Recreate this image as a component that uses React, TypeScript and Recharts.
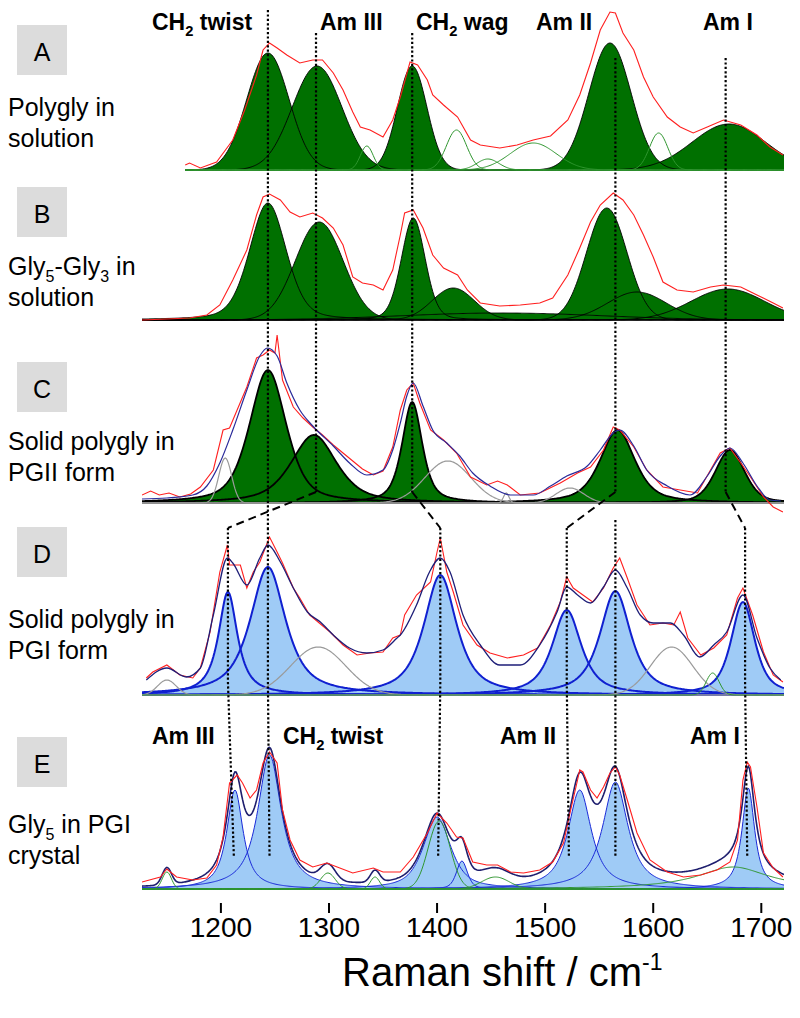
import React from "react";
import { ComposedChart, Area, Line, XAxis, YAxis, ReferenceLine } from "recharts";

// peak: [centre cm-1, height, half width at half max cm-1, lorentzian share]
type Peak = [number, number, number, number];
// spectrum point: [Raman shift cm-1, intensity above the panel baseline]
type Pt = [number, number];

const xTicks = [1200, 1300, 1400, 1500, 1600, 1700];

// A - polygly in solution
const peaksA: Peak[] = [[1243.5, 117, 23, 0], [1289, 104, 27, 0], [1377, 104, 16, 0], [1560, 127, 23, 0], [1670, 46, 40, 0]];
const greenA: Peak[] = [[1335, 24, 7, 0], [1418, 40, 11, 0], [1447, 11, 12, 0], [1489, 27, 25, 0], [1605, 37, 10, 0]];
const rawA: Pt[] = [[1167, 5], [1171, 7], [1181, 2], [1196, 8], [1211, 30], [1222, 60], [1233, 95], [1239, 120], [1245, 127], [1252, 122], [1261, 115], [1273, 107], [1285, 110], [1294, 110], [1304, 97], [1313, 80], [1322, 58], [1329, 43], [1338, 40], [1350, 33], [1359, 50], [1366, 73], [1375, 108], [1382, 105], [1391, 90], [1396, 75], [1406, 65], [1419, 53], [1431, 30], [1440, 25], [1458, 22], [1474, 25], [1489, 30], [1505, 34], [1521, 50], [1532, 75], [1542, 107], [1551, 140], [1560, 158], [1565, 157], [1572, 137], [1582, 120], [1591, 93], [1600, 73], [1613, 53], [1625, 43], [1637, 37], [1650, 43], [1665, 50], [1681, 45], [1696, 35], [1708, 23], [1720, 15]];

// B - Gly5-Gly3 in solution
const peaksB: Peak[] = [[1243.5, 117, 20, 0.3], [1291, 98, 26, 0], [1378, 102, 13, 0.2], [1415, 32, 23, 0], [1557, 112, 22, 0], [1585, 28, 32, 0], [1669, 31, 40, 0], [1460, 7, 110, 0]];
const rawB: Pt[] = [[1127, 0], [1150, 1], [1171, 2], [1187, 5], [1199, 15], [1211, 40], [1224, 70], [1233, 105], [1239, 123], [1245, 126], [1255, 120], [1264, 108], [1273, 103], [1285, 107], [1294, 102], [1304, 92], [1313, 75], [1322, 43], [1331, 37], [1341, 35], [1350, 30], [1359, 50], [1366, 85], [1370, 107], [1378, 110], [1387, 92], [1396, 65], [1406, 52], [1419, 45], [1428, 30], [1440, 17], [1458, 14], [1477, 15], [1495, 17], [1507, 22], [1521, 45], [1532, 72], [1542, 98], [1551, 115], [1563, 127], [1572, 120], [1582, 105], [1591, 85], [1600, 63], [1609, 38], [1622, 30], [1637, 28], [1653, 33], [1665, 35], [1681, 33], [1696, 25], [1711, 17], [1720, 12]];

// C - solid polygly, PGII
const peaksC: Peak[] = [[1243.5, 133, 20, 0.5], [1286, 68, 25, 0.6], [1377, 101, 11, 0.6], [1567, 73, 19, 0.6], [1671, 53, 16, 0.4]];
const grayC: Peak[] = [[1204, 45, 7, 0], [1410, 42, 25, 0], [1464, 10, 3, 0], [1523, 15, 15, 0]];
const rawC: Pt[] = [[1127, 8], [1135, 12], [1143, 8], [1152, 10], [1162, 6], [1172, 9], [1181, 16], [1193, 33], [1202, 73], [1208, 75], [1215, 93], [1224, 116], [1233, 145], [1239, 148], [1245, 153], [1250, 150], [1252, 168], [1257, 123], [1267, 96], [1276, 85], [1285, 76], [1294, 68], [1304, 58], [1313, 50], [1322, 42], [1331, 34], [1341, 28], [1350, 32], [1359, 56], [1366, 93], [1372, 113], [1378, 120], [1384, 100], [1394, 73], [1406, 63], [1418, 50], [1431, 26], [1446, 18], [1456, 22], [1465, 18], [1477, 8], [1495, 10], [1514, 20], [1530, 30], [1542, 36], [1554, 53], [1563, 76], [1569, 73], [1582, 56], [1594, 33], [1609, 16], [1625, 13], [1641, 10], [1653, 33], [1662, 50], [1671, 55], [1681, 40], [1690, 26], [1702, 6], [1711, -4], [1720, -9]];
const fitC: Pt[] = [[1127, 4], [1150, 5], [1174, 8], [1187, 17], [1199, 40], [1211, 73], [1224, 113], [1236, 147], [1243, 155], [1252, 147], [1261, 120], [1273, 93], [1285, 77], [1304, 57], [1319, 40], [1335, 28], [1350, 33], [1359, 53], [1366, 80], [1372, 107], [1378, 120], [1387, 97], [1396, 73], [1409, 60], [1421, 47], [1433, 30], [1449, 17], [1468, 8], [1489, 8], [1505, 17], [1520, 27], [1539, 37], [1551, 53], [1563, 70], [1569, 73], [1582, 57], [1594, 33], [1613, 17], [1634, 8], [1650, 27], [1662, 47], [1671, 55], [1683, 40], [1696, 17], [1708, 3], [1718, 2]];

// D - solid polygly, PGI
const peaksD: Peak[] = [[1206.5, 103, 10.5, 0.9], [1243.5, 128, 19.5, 0.8], [1403, 120, 18, 0.8], [1520, 85, 16, 0.8], [1565, 104, 17, 0.8], [1683, 93, 13, 0.7]];
const grayD: Peak[] = [[1150, 15, 10, 0], [1290, 48, 30, 0], [1617, 48, 23, 0]];
const greenD: Peak[] = [[1655, 22, 7, 0]];
const rawD: Pt[] = [[1131, 17], [1137, 23], [1150, 30], [1162, 20], [1174, 17], [1181, 27], [1190, 63], [1199, 123], [1206, 150], [1208, 130], [1218, 130], [1224, 107], [1230, 123], [1236, 133], [1245, 158], [1252, 143], [1257, 132], [1267, 107], [1273, 97], [1282, 80], [1291, 72], [1301, 63], [1313, 50], [1326, 40], [1338, 42], [1350, 43], [1359, 57], [1366, 60], [1370, 80], [1381, 100], [1394, 113], [1400, 143], [1403, 157], [1409, 123], [1415, 103], [1424, 70], [1437, 50], [1449, 42], [1465, 37], [1480, 40], [1493, 47], [1505, 70], [1514, 93], [1520, 118], [1526, 107], [1535, 100], [1544, 93], [1554, 107], [1563, 127], [1569, 137], [1576, 117], [1585, 90], [1597, 70], [1609, 72], [1619, 70], [1625, 83], [1632, 57], [1644, 40], [1656, 47], [1668, 60], [1678, 97], [1683, 107], [1692, 80], [1702, 43], [1711, 20], [1720, 13]];
const fitD: Pt[] = [[1131, 15], [1150, 27], [1168, 18], [1181, 27], [1193, 80], [1206, 137], [1211, 132], [1224, 110], [1236, 137], [1243.5, 150], [1255, 133], [1267, 107], [1280, 83], [1292, 73], [1304, 60], [1319, 47], [1335, 42], [1350, 45], [1363, 57], [1366, 60], [1381, 90], [1393, 123], [1403, 137], [1412, 123], [1424, 80], [1440, 50], [1458, 30], [1477, 30], [1495, 50], [1511, 83], [1520, 108], [1530, 100], [1542, 92], [1554, 108], [1565, 125], [1576, 107], [1588, 80], [1600, 72], [1616, 72], [1628, 60], [1643, 38], [1656, 50], [1668, 63], [1683, 100], [1696, 57], [1708, 27], [1718, 15]];

// E - Gly5 in PGI crystal
const peaksE: Peak[] = [[1213, 99, 9, 0.9], [1245, 134, 13, 0.9], [1400, 72, 15, 0.7], [1423, 28, 6, 0.5], [1532, 99, 13, 0.9], [1565, 107, 14, 0.9], [1688, 101, 7, 0.9]];
const greenE: Peak[] = [[1150, 17, 5, 0], [1299, 16, 8, 0], [1342.6, 12, 5, 0], [1454, 12, 15, 0], [1674, 22, 40, 1]];
const greenEextra: Peak[] = [[1402, 68, 12, 0]];
const rawE: Pt[] = [[1127, 7], [1144, 12], [1150, 20], [1159, 12], [1174, 9], [1187, 11], [1196, 24], [1202, 52], [1208, 106], [1215, 114], [1220, 106], [1227, 91], [1233, 99], [1239, 126], [1245, 137], [1252, 126], [1257, 79], [1264, 49], [1273, 29], [1285, 22], [1298, 26], [1310, 21], [1322, 16], [1341, 21], [1350, 17], [1366, 17], [1378, 32], [1391, 56], [1400, 76], [1409, 66], [1418, 52], [1424, 51], [1433, 27], [1446, 24], [1456, 24], [1468, 17], [1480, 16], [1495, 19], [1507, 27], [1517, 46], [1523, 76], [1530, 109], [1532, 119], [1535, 117], [1542, 99], [1548, 91], [1554, 102], [1560, 116], [1565, 122], [1569, 114], [1576, 89], [1585, 56], [1597, 29], [1613, 17], [1628, 12], [1644, 14], [1659, 19], [1671, 27], [1678, 49], [1683, 109], [1687, 127], [1690, 122], [1696, 82], [1702, 36], [1711, 21], [1720, 12]];

// band assignments used for the dotted guides
const bandsTop = [1243.5, 1288, 1377, 1565, 1667];
const bandsD = [1243.5, 1206.5, 1403, 1520, 1565, 1685];
const bandsE = [1245, 1212, 1401, 1522, 1565, 1687];
const links: [number, number][] = [[0, 0], [1, 1], [2, 2], [3, 3], [4, 5]];

// ---------- layout ----------
const W = 800;
const H = 1018;
const AXIS_Y = 903;
const X_DOMAIN: [number, number] = [1127, 1721];
const FONT = "'Liberation Sans', Arial, Helvetica, sans-serif";
const toY = (px: number) => AXIS_Y - px;

const GREEN = "#007000";
const BLUE_FILL = "#9fcbf6";

type LineSet = { peaks: Peak[]; color: string; width: number; inFit: boolean };
type Panel = {
  id: string;
  base: number;
  start: number;
  filled: Peak[];
  fill: string;
  edge: string;
  edgeWidth: number;
  lines: LineSet[];
  raw: Pt[];
  fit?: Pt[] | "sum";
  fitColor?: string;
  fitWidth?: number;
  rawFirst?: boolean;
};

const panels: Panel[] = [
  { id: "A", base: 170, start: 1167, filled: peaksA, fill: GREEN, edge: "#000", edgeWidth: 0.9, lines: [{ peaks: greenA, color: "#2f962f", width: 1, inFit: false }], raw: rawA },
  { id: "B", base: 320, start: 1127, filled: peaksB, fill: GREEN, edge: "#000", edgeWidth: 0.9, lines: [], raw: rawB },
  { id: "C", base: 503, start: 1127, filled: peaksC, fill: GREEN, edge: "#000", edgeWidth: 1.8, lines: [{ peaks: grayC, color: "#9a9a9a", width: 1.2, inFit: true }], raw: rawC, fit: fitC, fitColor: "#2a2a9a", fitWidth: 1.2, rawFirst: true },
  { id: "D", base: 695, start: 1127, filled: peaksD, fill: BLUE_FILL, edge: "#1020d0", edgeWidth: 2, lines: [{ peaks: grayD, color: "#9a9a9a", width: 1.2, inFit: true }, { peaks: greenD, color: "#2f962f", width: 1, inFit: true }], raw: rawD, fit: fitD, fitColor: "#1e1e78", fitWidth: 1.3, rawFirst: true },
  { id: "E", base: 889, start: 1127, filled: peaksE, fill: BLUE_FILL, edge: "#1a2ad8", edgeWidth: 1, lines: [{ peaks: greenE, color: "#2f962f", width: 1, inFit: true }, { peaks: greenEextra, color: "#2f962f", width: 1, inFit: false }], raw: rawE, fit: "sum", fitColor: "#1e1e6e", fitWidth: 1.6 },
];

const shape = (x: number, [c, h, w, eta]: Peak) => {
  const t = (x - c) / w;
  return h * ((1 - eta) * Math.exp(-Math.LN2 * t * t) + eta / (1 + t * t));
};

const rows: Record<string, any>[] = [];
for (let x = X_DOMAIN[0]; x <= X_DOMAIN[1]; x += 1) {
  const row: Record<string, any> = { x };
  panels.forEach((p) => {
    if (x < p.start) return;
    const b = toY(p.base);
    let sum = 0;
    p.filled.forEach((pk, i) => {
      const v = shape(x, pk);
      sum += v;
      row[`${p.id}f${i}`] = [b, b + v];
      row[`${p.id}e${i}`] = b + v;
    });
    p.lines.forEach((set, j) =>
      set.peaks.forEach((pk, k) => {
        const v = shape(x, pk);
        if (set.inFit) sum += v;
        row[`${p.id}l${j}_${k}`] = b + v;
      })
    );
    row[`${p.id}sum`] = b + sum;
  });
  rows.push(row);
}

const toSeries = (pts: Pt[], base: number) => pts.map(([x, v]) => ({ x, y: toY(base) + v }));

// dotted guides from band positions
const GUIDE_TOP = [10, 33, 33, 58, 58];
const C_END = 492;
const D_START = 528;
const D_SOLO = 520;
const D_BEND = 682;
const E_END = 857;
type Seg = { x1: number; y1: number; x2: number; y2: number; dashed: boolean };
const guides: Seg[] = [];
bandsTop.forEach((b, i) => guides.push({ x1: b, y1: GUIDE_TOP[i], x2: b, y2: C_END, dashed: false }));
links.forEach(([i, j]) =>
  guides.push({ x1: bandsTop[i], y1: C_END, x2: bandsD[j], y2: D_START, dashed: bandsTop[i] !== bandsD[j] })
);
bandsD.forEach((b, j) => {
  const linked = links.some(([, jj]) => jj === j);
  guides.push({ x1: b, y1: linked ? D_START : D_SOLO, x2: b, y2: D_BEND, dashed: false });
  guides.push({ x1: b, y1: D_BEND, x2: bandsE[j], y2: E_END, dashed: false });
});

const topLabels = [
  { t: "CH2 twist", x: 152, y: 30 },
  { t: "Am III", x: 320, y: 30 },
  { t: "CH2 wag", x: 416, y: 30 },
  { t: "Am II", x: 536, y: 30 },
  { t: "Am I", x: 703, y: 30 },
  { t: "Am III", x: 152, y: 744 },
  { t: "CH2 twist", x: 283, y: 744 },
  { t: "Am II", x: 500, y: 744 },
  { t: "Am I", x: 690, y: 744 },
];

const panelText = [
  { letter: "A", box: 25, lines: ["Polygly in", "solution"], y: 116 },
  { letter: "B", box: 187, lines: ["Gly5-Gly3 in", "solution"], y: 275 },
  { letter: "C", box: 362, lines: ["Solid polygly in", "PGII form"], y: 450 },
  { letter: "D", box: 527, lines: ["Solid polygly in", "PGI form"], y: 628 },
  { letter: "E", box: 737, lines: ["Gly5 in PGI", "crystal"], y: 833 },
];

function Chem({ text, x, y, size, bold }: { text: string; x: number; y: number; size: number; bold?: boolean }) {
  const parts = text.split(/(?<=[A-Za-z])(\d)/);
  const shift = size * 0.28;
  return (
    <text x={x} y={y} fontSize={size} fontWeight={bold ? "bold" : "normal"} fontFamily={FONT} fill="#000">
      {parts.map((s, i) => {
        if (i % 2 === 1)
          return (
            <tspan key={i} fontSize={size * 0.64} dy={shift}>
              {s}
            </tspan>
          );
        return (
          <tspan key={i} dy={i > 0 ? -shift : 0}>
            {s}
          </tspan>
        );
      })}
    </text>
  );
}

const Tick = (props: any) => {
  const { x, y, payload } = props;
  return (
    <text x={x} y={y + 22} textAnchor="middle" fontSize={28} fontFamily={FONT} fill="#000">
      {payload.value}
    </text>
  );
};

export default function App() {
  const series: React.ReactNode[] = [];
  panels.forEach((p) => {
    p.filled.forEach((_, i) =>
      series.push(
        <Area key={`${p.id}f${i}`} dataKey={`${p.id}f${i}`} type="linear" stroke="none" fill={p.fill} fillOpacity={1} isAnimationActive={false} dot={false} activeDot={false} />
      )
    );
    p.filled.forEach((_, i) =>
      series.push(
        <Line key={`${p.id}e${i}`} dataKey={`${p.id}e${i}`} type="linear" stroke={p.edge} strokeWidth={p.edgeWidth} dot={false} activeDot={false} isAnimationActive={false} />
      )
    );
    p.lines.forEach((set, j) =>
      set.peaks.forEach((_, k) =>
        series.push(
          <Line key={`${p.id}l${j}_${k}`} dataKey={`${p.id}l${j}_${k}`} type="linear" stroke={set.color} strokeWidth={set.width} dot={false} activeDot={false} isAnimationActive={false} />
        )
      )
    );
    const raw = (
      <Line key={`${p.id}raw`} data={toSeries(p.raw, p.base)} dataKey="y" type="linear" stroke="#ff1f1f" strokeWidth={1.1} dot={false} activeDot={false} isAnimationActive={false} />
    );
    let fit: React.ReactNode = null;
    if (p.fit === "sum") {
      fit = <Line key={`${p.id}fit`} dataKey={`${p.id}sum`} type="linear" stroke={p.fitColor} strokeWidth={p.fitWidth} dot={false} activeDot={false} isAnimationActive={false} />;
    } else if (p.fit) {
      fit = <Line key={`${p.id}fit`} data={toSeries(p.fit, p.base)} dataKey="y" type="monotone" stroke={p.fitColor} strokeWidth={p.fitWidth} dot={false} activeDot={false} isAnimationActive={false} />;
    }
    if (p.rawFirst) {
      series.push(raw);
      if (fit) series.push(fit);
    } else {
      if (fit) series.push(fit);
      series.push(raw);
    }
  });

  return (
    <div style={{ position: "absolute", left: 0, top: 0, width: W, height: H, background: "#fff" }}>
      <ComposedChart width={W} height={H} data={rows} margin={{ top: 0, right: 16, bottom: H - AXIS_Y - 50, left: 142 }}>
        <XAxis
          type="number"
          dataKey="x"
          domain={X_DOMAIN}
          ticks={xTicks}
          allowDataOverflow
          axisLine={false}
          tickLine={{ stroke: "#000", strokeWidth: 2 }}
          tickSize={10}
          tick={<Tick />}
          height={50}
          interval={0}
        />
        <YAxis type="number" domain={[0, AXIS_Y]} hide allowDataOverflow />
        {series}
        {guides.map((g, i) => (
          <ReferenceLine
            key={`g${i}`}
            segment={[
              { x: g.x1, y: toY(g.y1) },
              { x: g.x2, y: toY(g.y2) },
            ]}
            stroke="#000"
            strokeWidth={g.dashed ? 2 : 2.2}
            strokeDasharray={g.dashed ? "8 5" : "2.2 2.2"}
            ifOverflow="visible"
          />
        ))}
      </ComposedChart>
      <svg width={W} height={H} style={{ position: "absolute", left: 0, top: 0, pointerEvents: "none" }}>
        {topLabels.map((l, i) => (
          <Chem key={i} text={l.t} x={l.x} y={l.y} size={23} bold />
        ))}
        {panelText.map((p) => (
          <g key={p.letter}>
            <rect x={17} y={p.box} width={50} height={50} fill="#dcdcdc" />
            <text x={42} y={p.box + 36} textAnchor="middle" fontSize={25} fontFamily={FONT} fill="#000">
              {p.letter}
            </text>
            {p.lines.map((s, k) => (
              <Chem key={k} text={s} x={8} y={p.y + k * 31} size={25} />
            ))}
          </g>
        ))}
        <text x={342} y={986} fontSize={40} fontFamily={FONT} fill="#000">
          Raman shift / cm
          <tspan fontSize={23} dy={-16}>
            -1
          </tspan>
        </text>
      </svg>
    </div>
  );
}
